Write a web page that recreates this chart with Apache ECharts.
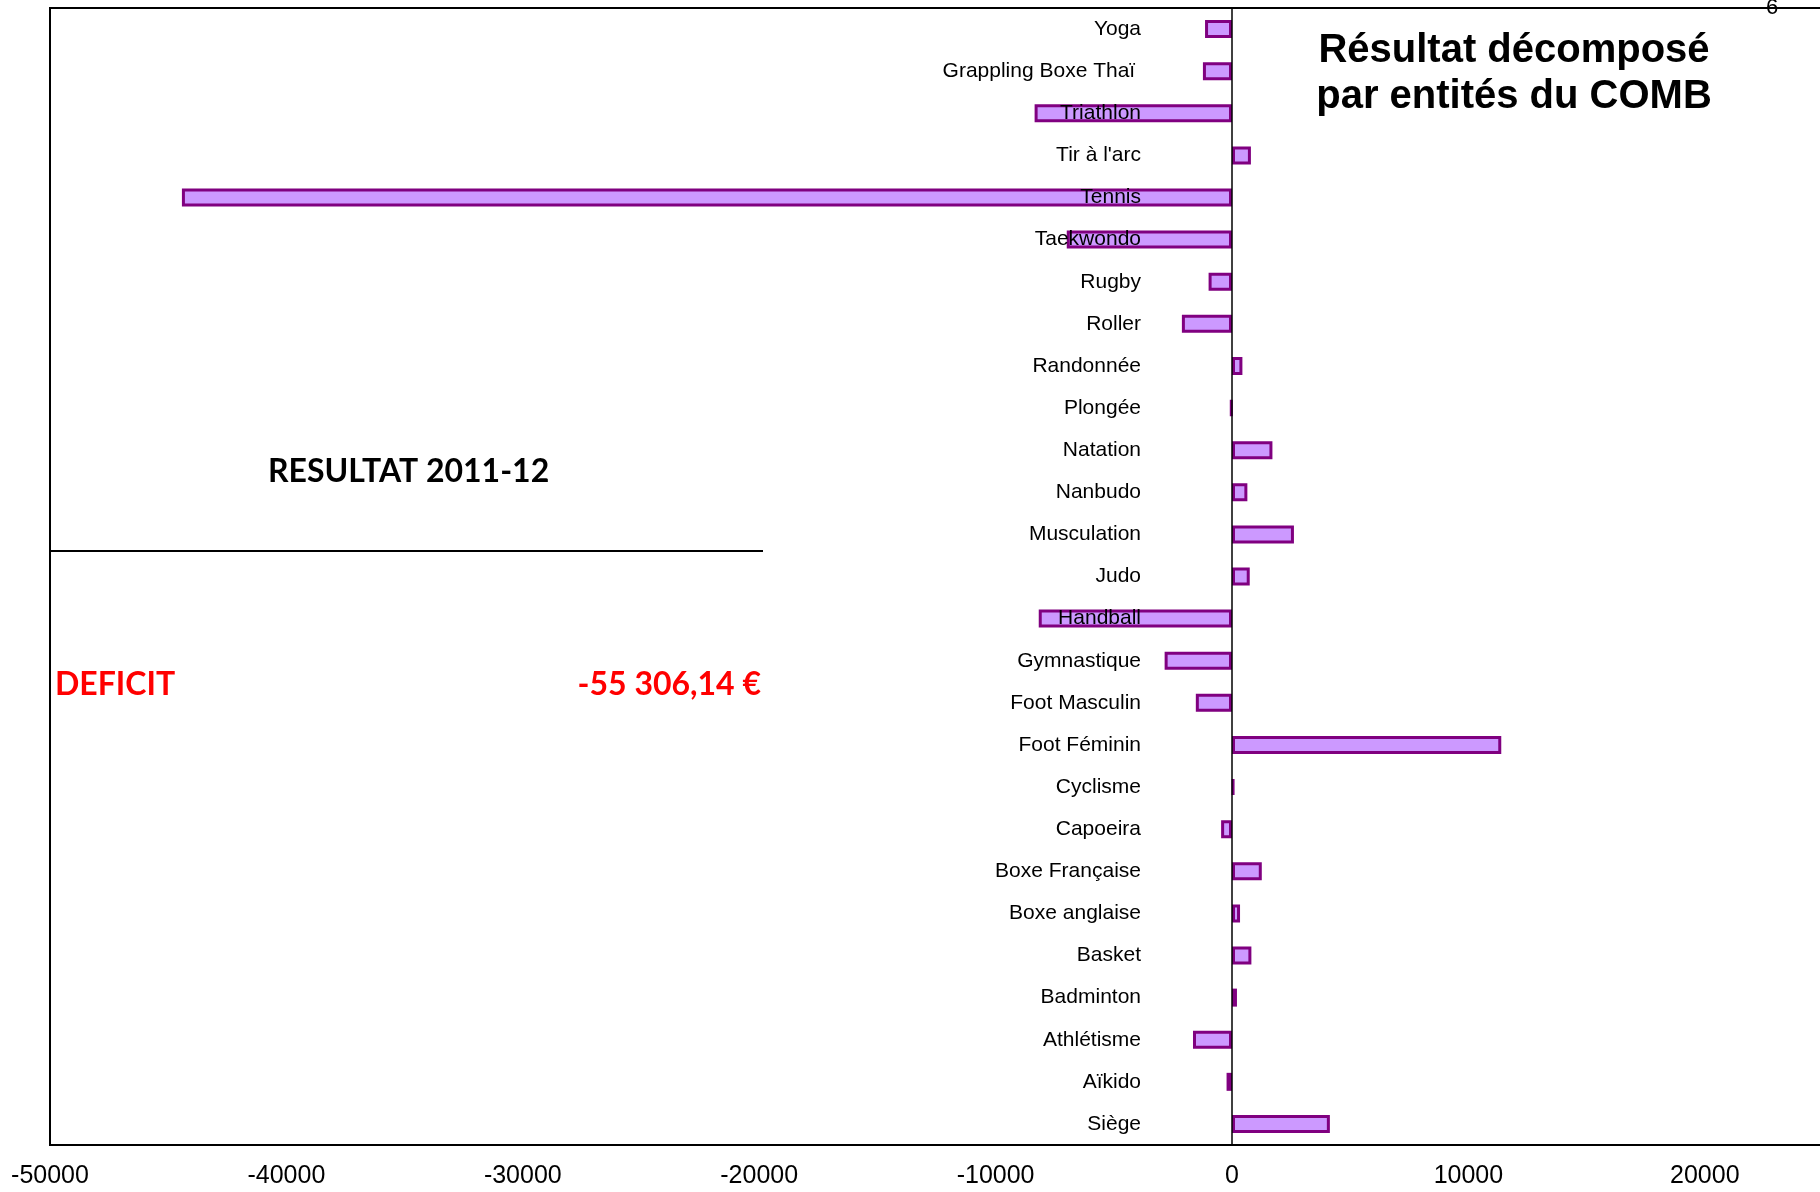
<!DOCTYPE html>
<html>
<head>
<meta charset="utf-8">
<script src="https://cdn.jsdelivr.net/npm/echarts@6/dist/echarts.min.js"></script>
<style>
  html, body { margin: 0; padding: 0; background: #fff; }
  #chart { width: 1820px; height: 1192px; }
</style>
</head>
<body>
<div id="chart"></div>
<script>
// categories bottom -> top (echarts category y axis starts at the bottom)
const categories = [
  'Siège', 'Aïkido', 'Athlétisme', 'Badminton', 'Basket', 'Boxe anglaise',
  'Boxe Française', 'Capoeira', 'Cyclisme', 'Foot Féminin', 'Foot Masculin',
  'Gymnastique', 'Handball', 'Judo', 'Musculation', 'Nanbudo', 'Natation',
  'Plongée', 'Randonnée', 'Roller', 'Rugby', 'Taekwondo', 'Tennis',
  "Tir à l'arc", 'Triathlon', 'Grappling Boxe Thaï ', 'Yoga'
]
const resultats = [
  4140, -230, -1650, 210, 820, 340,
  1260, -460, 90, 11390, -1530,
  -2850, -8175, 750, 2620, 650, 1710,
  -60, 440, -2120, -990, -6990, -44420,
  800, -8350, -1230, -1140
]
const xMin = -50000
const xMax = 25000
const xStep = 10000

const titleLines = ['Résultat décomposé', 'par entités du COMB']
const resultatLabel = 'RESULTAT 2011-12'
const deficitLabel = 'DEFICIT'
const deficitAmount = '-55 306,14 €'
const pageNumber = '6'

const ARIAL = '"Liberation Sans", Arial, sans-serif'
const CALIBRI = 'Lato, "Open Sans", sans-serif'

const GRID_LEFT = 50
const GRID_RIGHT = -3
const CHART_W = 1820

// the category axis sits on x = 0 of the value axis
const plotW = CHART_W - GRID_LEFT - GRID_RIGHT
const zeroOffset = (0 - xMin) / (xMax - xMin) * plotW

const chart = echarts.init(document.getElementById('chart'))

chart.setOption({
  animation: false,
  backgroundColor: '#fff',
  grid: {
    left: GRID_LEFT, top: 8, right: GRID_RIGHT, bottom: 47,
    containLabel: false, outerBoundsMode: 'none',
    show: true, borderColor: '#000', borderWidth: 2
  },
  xAxis: {
    type: 'value',
    min: xMin, max: xMax, interval: xStep,
    splitLine: { show: false },
    axisLine: { lineStyle: { color: '#000', width: 2 } },
    axisTick: { length: 7, lineStyle: { color: '#777' } },
    axisLabel: {
      margin: 19, fontSize: 25, color: '#000', fontFamily: ARIAL,
      showMaxLabel: false,
      formatter: (v) => String(v)
    }
  },
  yAxis: {
    type: 'category',
    data: categories,
    z: 5,
    offset: -zeroOffset,
    axisLine: { onZero: false, lineStyle: { color: '#000', width: 1.5 } },
    axisTick: { length: 6, lineStyle: { color: '#666' } },
    axisLabel: { margin: 91, fontSize: 21, color: '#000', fontFamily: ARIAL, padding: [3, 0, 0, 0] }
  },
  series: [{
    type: 'bar',
    data: resultats,
    barWidth: 18,
    itemStyle: { color: '#cc99ff', borderColor: '#800080', borderWidth: 3 }
  }],
  graphic: [
    {
      type: 'text', x: 1514, y: 51,
      style: { text: titleLines[0], fill: '#000', font: 'bold 40px ' + ARIAL, align: 'center', verticalAlign: 'middle' }
    },
    {
      type: 'text', x: 1514, y: 97,
      style: { text: titleLines[1], fill: '#000', font: 'bold 40px ' + ARIAL, align: 'center', verticalAlign: 'middle' }
    },
    {
      type: 'text', x: 1772, y: 8,
      style: { text: pageNumber, fill: '#000', font: '22px ' + ARIAL, align: 'center', verticalAlign: 'middle' }
    },
    {
      type: 'text', x: 268, y: 472,
      style: { text: resultatLabel, fill: '#000', font: 'bold 32px ' + CALIBRI, align: 'left', verticalAlign: 'middle' }
    },
    {
      type: 'line',
      shape: { x1: 51, y1: 551, x2: 763, y2: 551 },
      style: { stroke: '#000', lineWidth: 2 }
    },
    {
      type: 'text', x: 55, y: 685,
      style: { text: deficitLabel, fill: '#ff0000', font: 'bold 32px ' + CALIBRI, align: 'left', verticalAlign: 'middle' }
    },
    {
      type: 'text', x: 761, y: 685,
      style: { text: deficitAmount, fill: '#ff0000', font: 'bold 32px ' + CALIBRI, align: 'right', verticalAlign: 'middle' }
    }
  ]
})
</script>
</body>
</html>
